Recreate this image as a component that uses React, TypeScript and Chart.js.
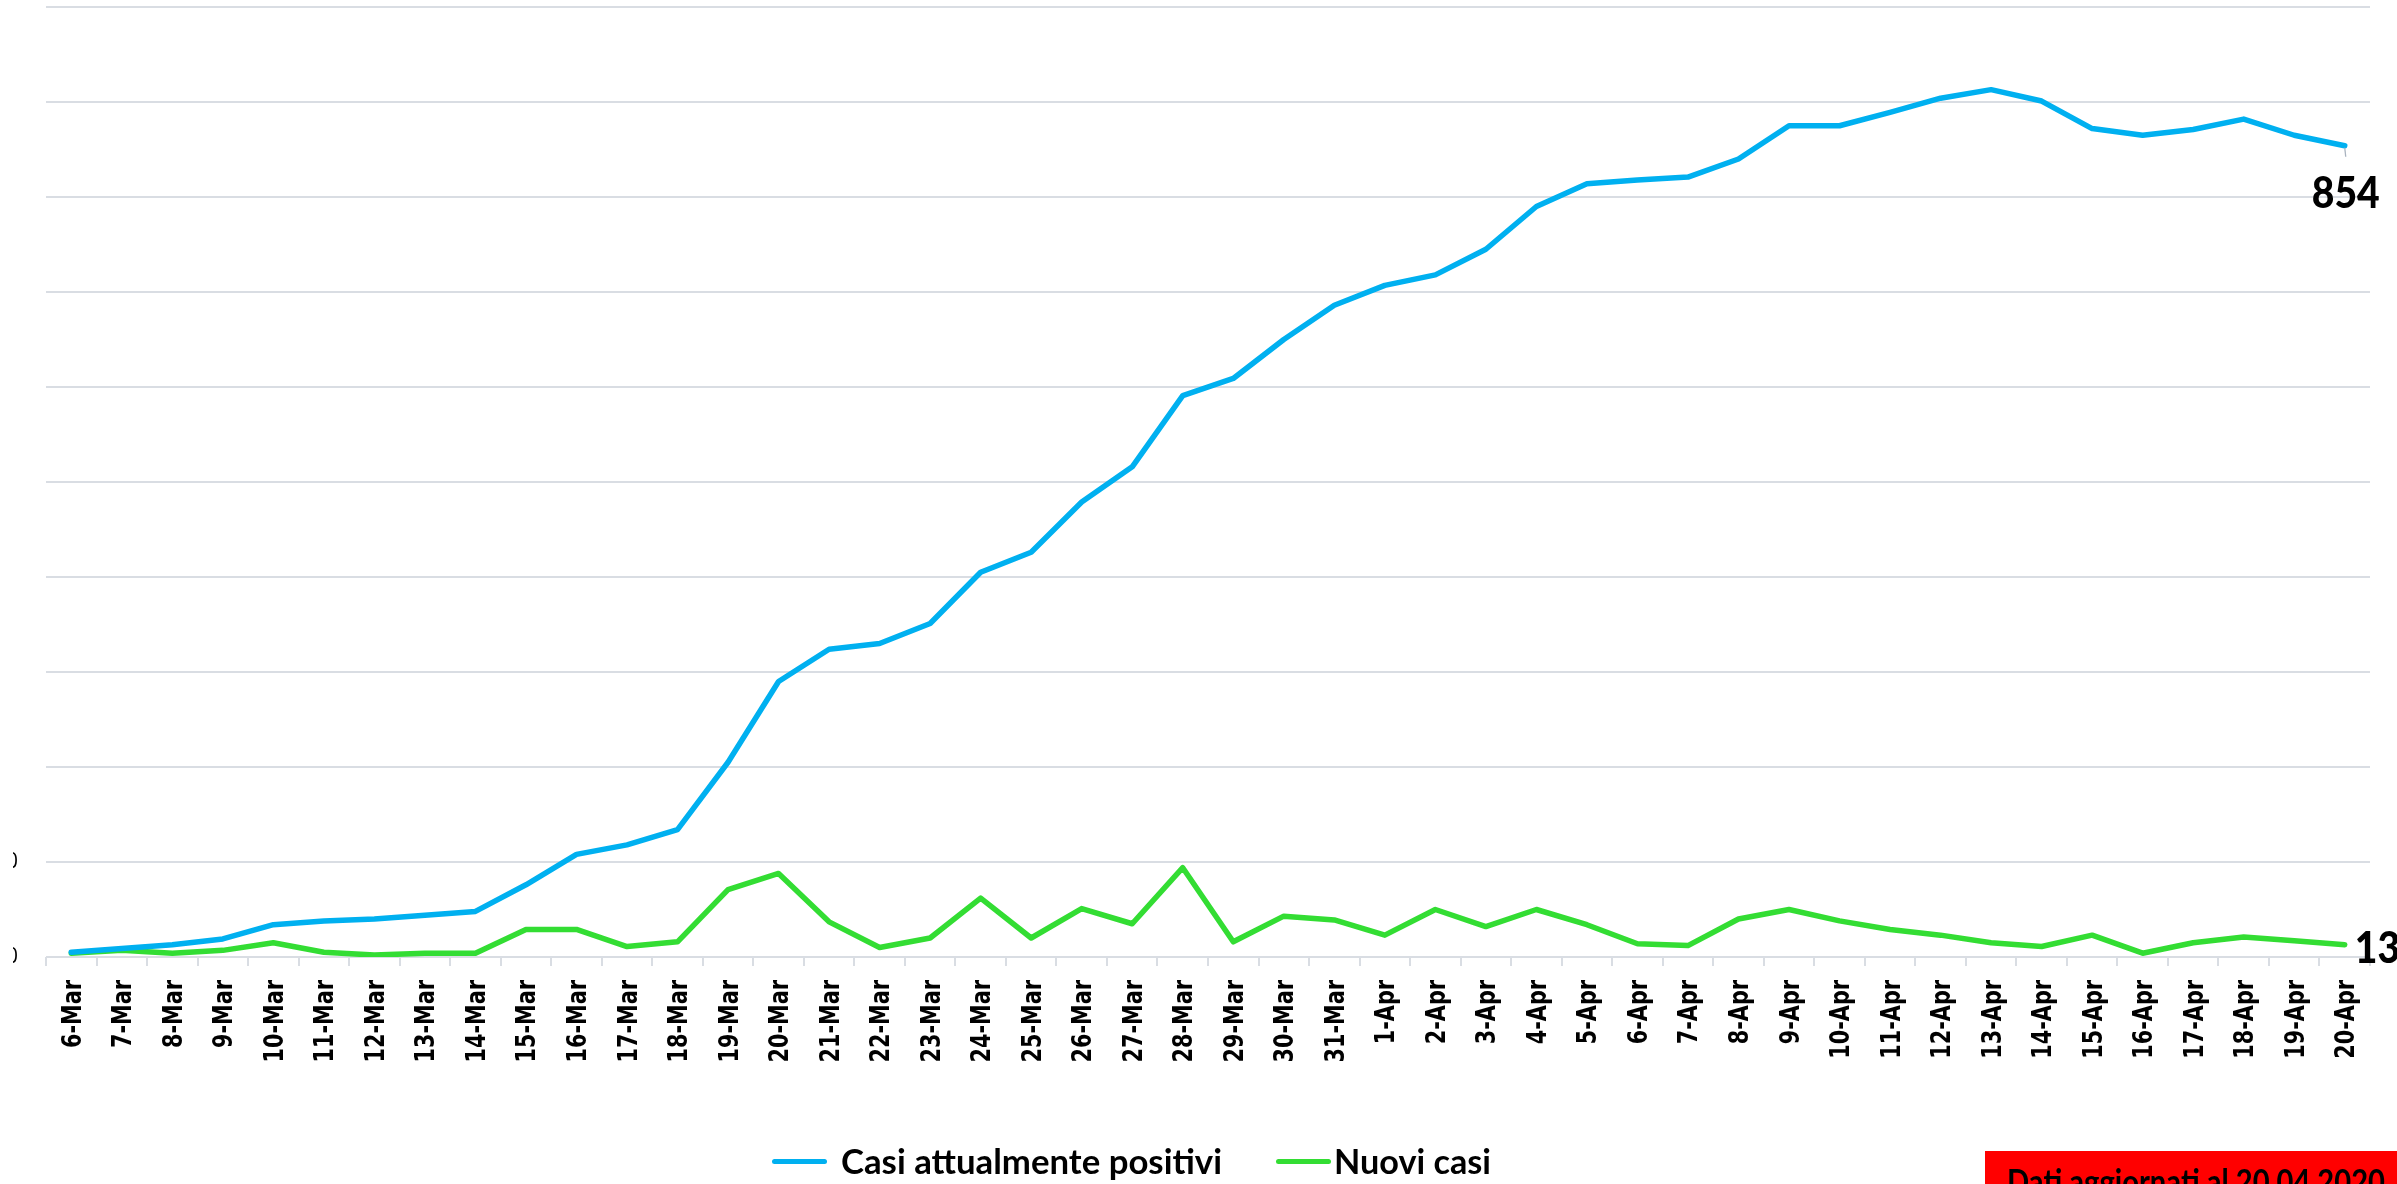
import React, { useEffect, useRef } from "react";
import { Chart, registerables } from "chart.js";

Chart.register(...registerables);

const dates = [
  "6-Mar", "7-Mar", "8-Mar", "9-Mar", "10-Mar", "11-Mar", "12-Mar", "13-Mar", "14-Mar", "15-Mar",
  "16-Mar", "17-Mar", "18-Mar", "19-Mar", "20-Mar", "21-Mar", "22-Mar", "23-Mar", "24-Mar", "25-Mar",
  "26-Mar", "27-Mar", "28-Mar", "29-Mar", "30-Mar", "31-Mar", "1-Apr", "2-Apr", "3-Apr", "4-Apr",
  "5-Apr", "6-Apr", "7-Apr", "8-Apr", "9-Apr", "10-Apr", "11-Apr", "12-Apr", "13-Apr", "14-Apr",
  "15-Apr", "16-Apr", "17-Apr", "18-Apr", "19-Apr", "20-Apr",
];

const casiAttualmentePositivi = [
  5, 9, 13, 19, 34, 38, 40, 44, 48, 76,
  108, 118, 134, 205, 290, 324, 330, 351, 405, 426,
  479, 516, 591, 609, 650, 686, 707, 718, 745, 790,
  814, 818, 821, 840, 875, 875, 889, 904, 913, 901,
  872, 865, 871, 882, 865, 854,
];

const nuoviCasi = [
  4, 7, 4, 7, 15, 5, 2, 4, 4, 29,
  29, 11, 16, 71, 88, 37, 10, 20, 62, 20,
  51, 35, 94, 16, 43, 39, 23, 50, 32, 50,
  34, 14, 12, 40, 50, 38, 29, 23, 15, 11,
  23, 4, 15, 21, 17, 13,
];

const seriesNames = ["Casi attualmente positivi", "Nuovi casi"];
const yMin = 0;
const yMax = 1000;
const yStep = 100;
const visibleYTickLabels = [0, 100];
const noteText = "Dati aggiornati al 20.04.2020";

const BLUE = "#00b0f0";
const GREEN = "#33dd33";
const GRID = "#d9dde3";
const OX = 7; // canvas x = page x + OX

function drawFitted(
  ctx: CanvasRenderingContext2D,
  text: string,
  x: number,
  y: number,
  align: CanvasTextAlign,
  sx: number
) {
  ctx.save();
  ctx.translate(x, y);
  ctx.scale(sx, 1);
  ctx.textAlign = align;
  ctx.textBaseline = "alphabetic";
  ctx.fillText(text, 0, 0);
  ctx.restore();
}

const overlayPlugin = {
  id: "overlay",
  afterDatasetsDraw(chart: any) {
    const ctx: CanvasRenderingContext2D = chart.ctx;
    const m0 = chart.getDatasetMeta(0);
    const m1 = chart.getDatasetMeta(1);
    const p0 = m0.data[m0.data.length - 1];
    const p1 = m1.data[m1.data.length - 1];
    const v0 = casiAttualmentePositivi[casiAttualmentePositivi.length - 1];
    const v1 = nuoviCasi[nuoviCasi.length - 1];

    ctx.save();
    ctx.strokeStyle = "#a9b3bf";
    ctx.lineWidth = 1.3;
    ctx.beginPath();
    ctx.moveTo(p0.x, p0.y + 2);
    ctx.lineTo(p0.x + 1, p0.y + 11);
    ctx.stroke();

    ctx.fillStyle = "#000";
    ctx.font = "900 43px Lato, 'Open Sans', sans-serif";
    const w = ctx.measureText(String(v0)).width;
    const sx = 68 / w;
    drawFitted(ctx, String(v0), p0.x + 1, p0.y + 62, "center", sx);
    drawFitted(ctx, String(v1), p1.x + 10, p1.y + 18, "left", sx);
    ctx.restore();
  },
  afterDraw(chart: any) {
    const ctx: CanvasRenderingContext2D = chart.ctx;
    ctx.save();
    // x tick labels (rotated, condensed), positioned by the category scale
    const xs = chart.scales.x;
    ctx.fillStyle = "#000";
    ctx.font = "bold 26px 'DejaVu Sans'";
    const lsx = 68 / ctx.measureText(dates[0]).width;
    const labelTop = xs.top + 23;
    dates.forEach((d, i) => {
      const x = xs.getPixelForTick(i);
      ctx.save();
      ctx.translate(x + 9.5, labelTop);
      ctx.rotate(-Math.PI / 2);
      ctx.scale(lsx, 1);
      ctx.textAlign = "right";
      ctx.textBaseline = "alphabetic";
      ctx.fillText(d, 0, 0);
      ctx.restore();
    });

    // legend
    ctx.lineCap = "round";
    ctx.lineWidth = 5;
    ctx.strokeStyle = BLUE;
    ctx.beginPath();
    ctx.moveTo(774.5 + OX, 1161.5);
    ctx.lineTo(824.5 + OX, 1161.5);
    ctx.stroke();
    ctx.strokeStyle = GREEN;
    ctx.beginPath();
    ctx.moveTo(1278.5 + OX, 1161.5);
    ctx.lineTo(1328.5 + OX, 1161.5);
    ctx.stroke();

    ctx.fillStyle = "#000";
    ctx.font = "bold 34px Lato, 'Open Sans', sans-serif";
    const w1 = ctx.measureText(seriesNames[0]).width;
    drawFitted(ctx, seriesNames[0], 841 + OX, 1174, "left", 381 / w1);
    const w2 = ctx.measureText(seriesNames[1]).width;
    drawFitted(ctx, seriesNames[1], 1334 + OX, 1174, "left", 157 / w2);

    // note box
    ctx.fillStyle = "#ff0000";
    ctx.fillRect(1985 + OX, 1151, 440, 40);
    ctx.fillStyle = "#000";
    const w3 = ctx.measureText(noteText).width;
    drawFitted(ctx, noteText, 2007 + OX, 1194, "left", 378 / w3);
    ctx.restore();
  },
};

export default function App() {
  const ref = useRef<HTMLCanvasElement | null>(null);

  useEffect(() => {
    if (!ref.current) return;
    const chart = new Chart(ref.current, {
      type: "line",
      data: {
        labels: dates,
        datasets: [
          {
            label: seriesNames[0],
            data: casiAttualmentePositivi,
            borderColor: BLUE,
            backgroundColor: BLUE,
            borderWidth: 5.5,
            pointRadius: 0,
            tension: 0,
            borderJoinStyle: "round",
            borderCapStyle: "round",
          },
          {
            label: seriesNames[1],
            data: nuoviCasi,
            borderColor: GREEN,
            backgroundColor: GREEN,
            borderWidth: 5.5,
            pointRadius: 0,
            tension: 0,
            borderJoinStyle: "round",
            borderCapStyle: "round",
          },
        ],
      },
      options: {
        responsive: false,
        maintainAspectRatio: false,
        animation: false,
        layout: { padding: { top: 7, right: 43, bottom: 0, left: 0 } },
        plugins: {
          legend: { display: false },
          tooltip: { enabled: false },
        },
        scales: {
          x: {
            type: "category",
            offset: true,
            grid: {
              display: true,
              drawOnChartArea: false,
              drawTicks: true,
              tickLength: 9,
              color: GRID,
              lineWidth: 2,
              offset: true,
            },
            border: { display: false },
            ticks: {
              autoSkip: false,
              maxRotation: 90,
              minRotation: 90,
              padding: 14,
              color: "rgba(0,0,0,0)",
              font: { family: "'DejaVu Sans'", weight: "bold", size: 21 },
            },
            afterFit: (s: any) => {
              s.height = 227;
            },
          },
          y: {
            min: yMin,
            max: yMax,
            ticks: {
              stepSize: yStep,
              padding: 28,
              color: (c: any) =>
                visibleYTickLabels.includes(c.tick?.value) ? "#000" : "rgba(0,0,0,0)",
              font: { family: "'Open Sans'", size: 21 },
            },
            grid: { color: GRID, lineWidth: 2, drawTicks: false },
            border: { display: false },
            afterFit: (s: any) => {
              s.width = 53;
              s.paddingTop = 0;
              s.paddingBottom = 0;
            },
          },
        },
      },
      plugins: [overlayPlugin],
    } as any);
    return () => chart.destroy();
  }, []);

  return (
    <div
      style={{
        position: "absolute",
        left: 13,
        top: 0,
        width: 2384,
        height: 1184,
        overflow: "hidden",
        background: "#fff",
      }}
    >
      <canvas
        ref={ref}
        width={2420}
        height={1184}
        style={{ position: "absolute", left: -20, top: 0, width: 2420, height: 1184 }}
      />
    </div>
  );
}
